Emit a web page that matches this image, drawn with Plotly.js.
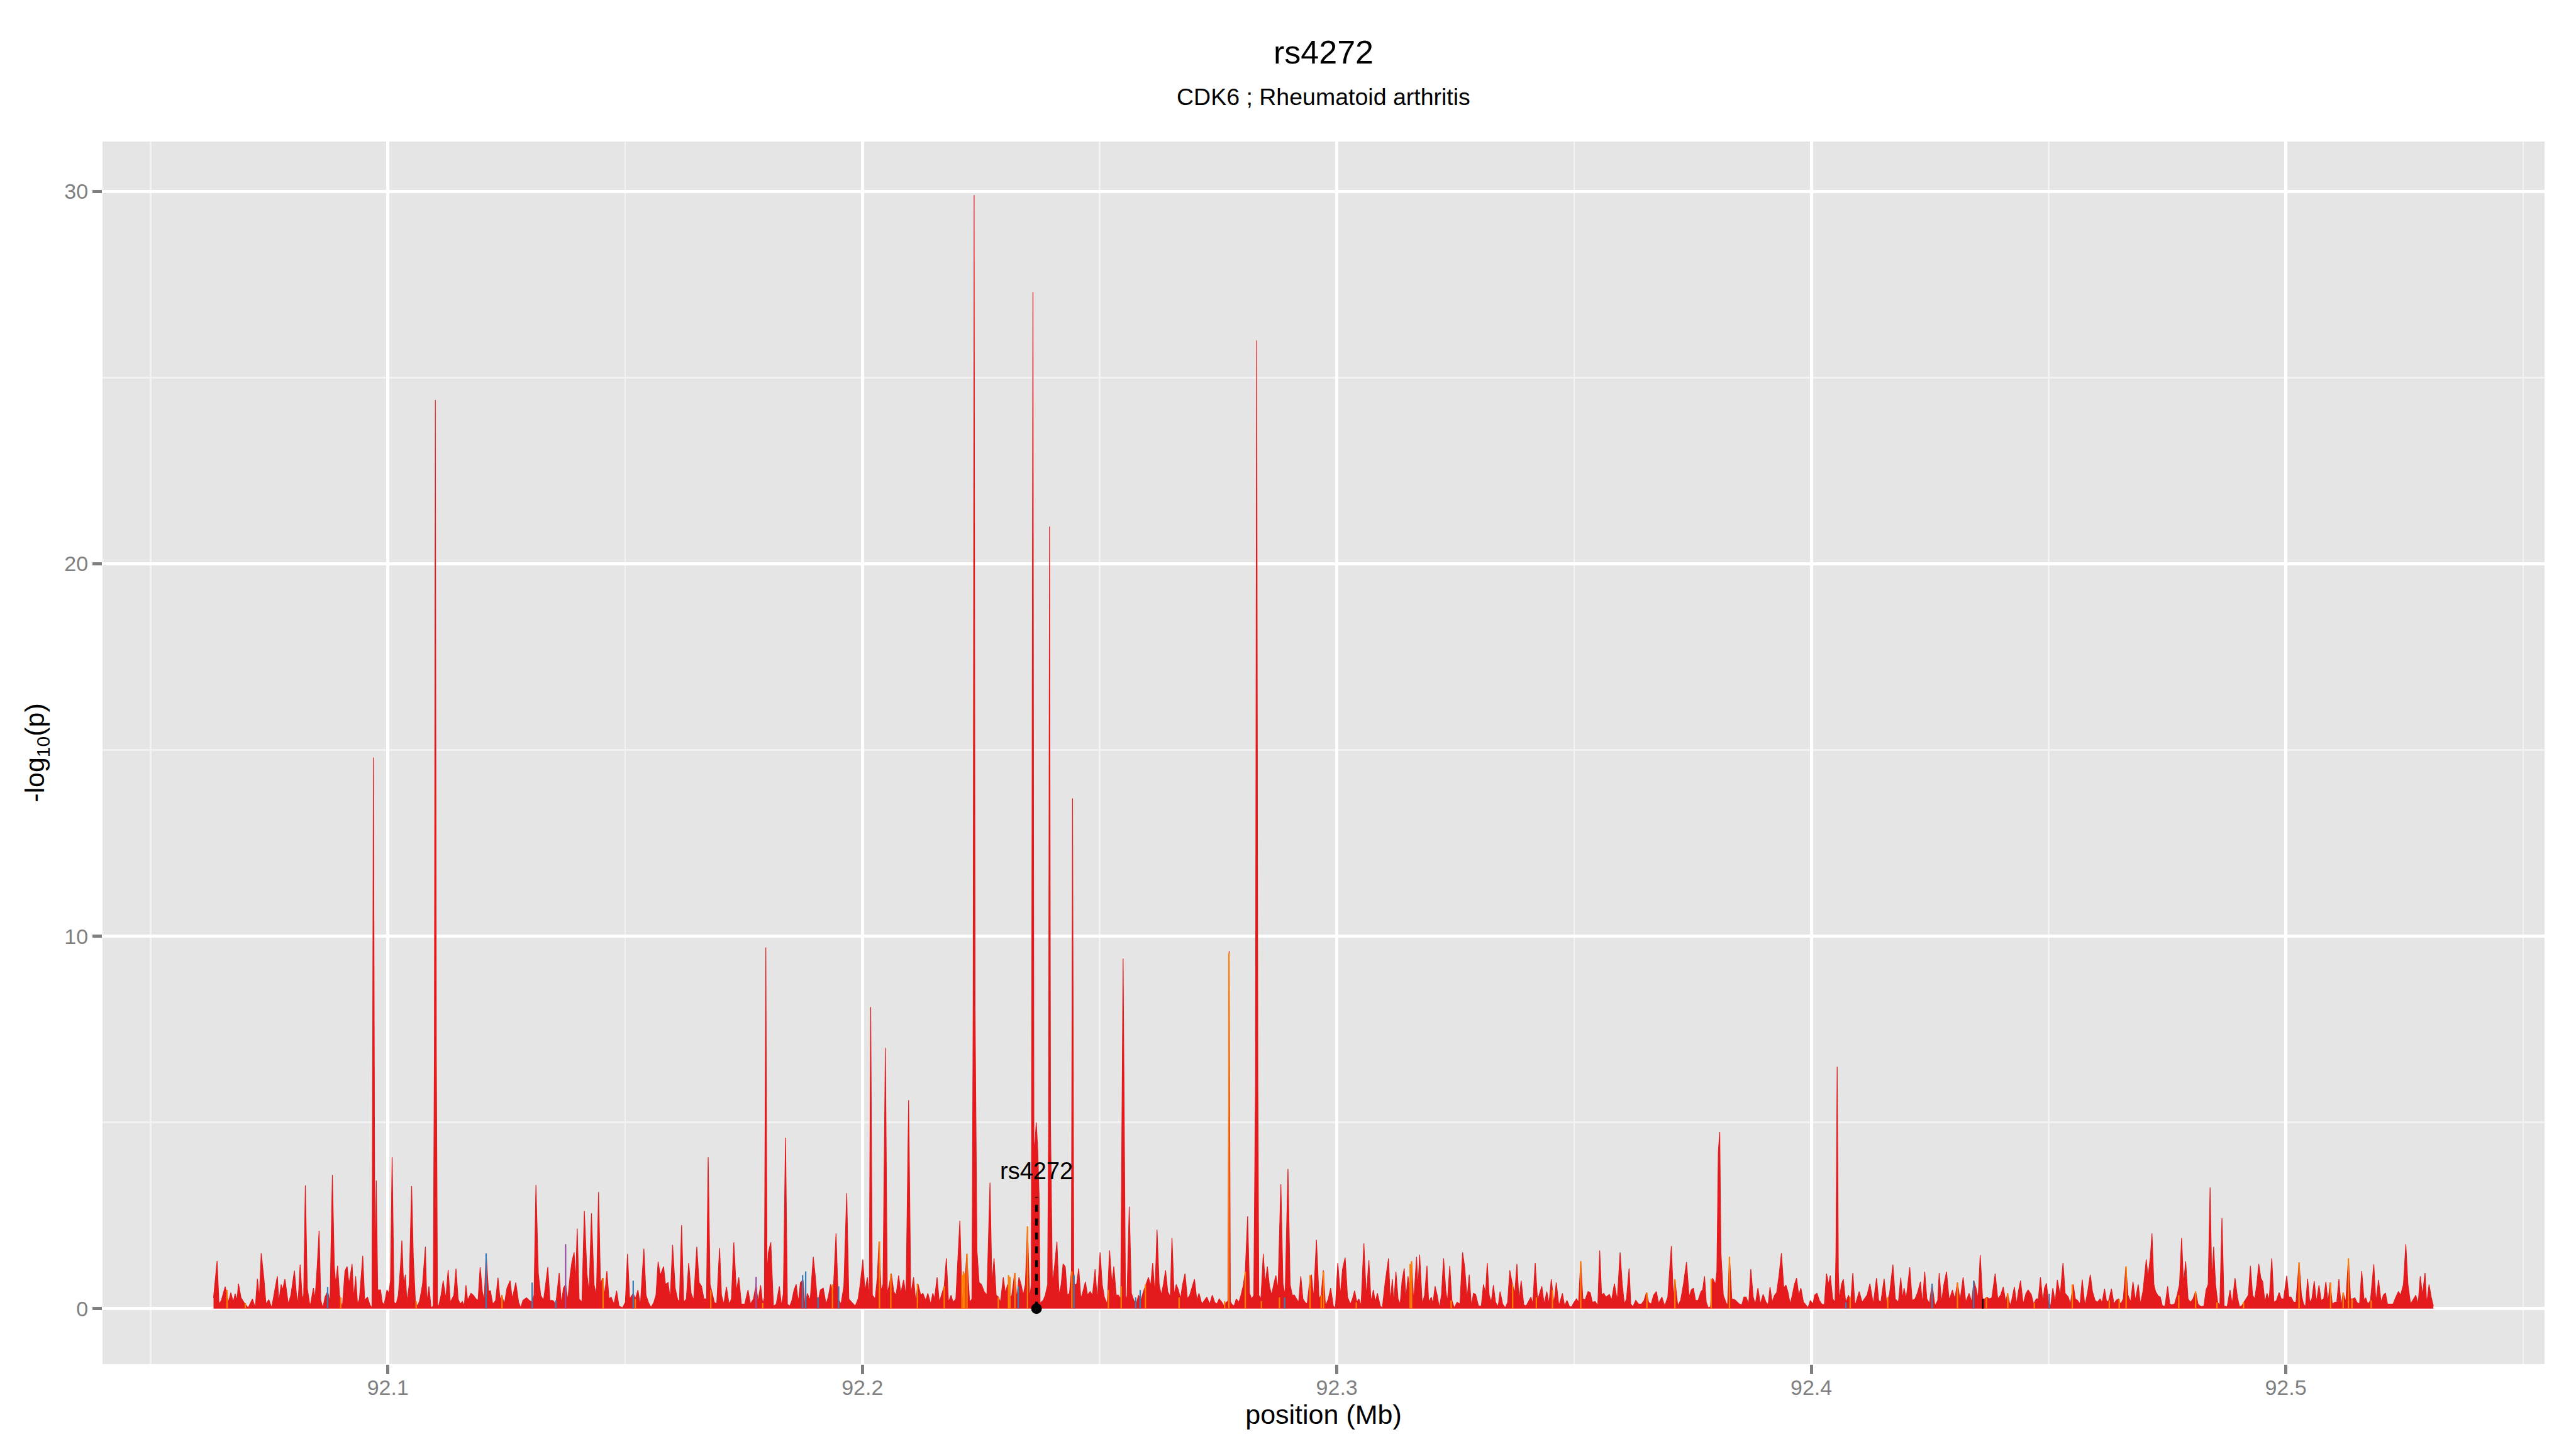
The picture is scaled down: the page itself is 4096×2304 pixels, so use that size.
<!DOCTYPE html>
<html>
<head>
<meta charset="utf-8">
<script src="https://cdn.plot.ly/plotly-3.0.1.min.js"></script>
<style>html,body{margin:0;padding:0;background:#fff;}#chart{width:4096px;height:2304px;}</style>
</head>
<body>
<div id="chart"></div>
<script>
// ---------- DATA (position in Mb, value = -log10(p)) ----------
const posA = [
92.06325,92.064,92.0644,92.0649,92.0657,92.0664,92.0669,92.0674,92.0678,92.0682,
92.0685,92.06905,92.0698,92.07055,92.07145,92.07205,92.0725,92.0729,92.0733,92.0739,
92.0743,92.0749,92.0755,92.076,92.0767,92.077,92.0775,92.0778,92.0783,92.07865,
92.079,92.07955,92.0803,92.0807,92.08105,92.0815,92.08195,92.08225,92.0826,92.083,
92.0836,92.0843,92.08465,92.0851,92.0855,92.08585,92.0863,92.08675,92.0873,92.0878,
92.0883,92.0887,92.089,92.0894,92.0898,92.0904,92.09095,92.0914,92.0918,92.09245,
92.0928,92.0932,92.0936,92.094,92.0947,92.0951,92.0957,92.0962,92.09665,92.09695,
92.09725,92.09755,92.09785,92.09845,92.0988,92.0992,92.0998,92.1002,92.10055,92.1009,
92.1013,92.10175,92.1022,92.10265,92.10295,92.1033,92.1037,92.104,92.1045,92.105,
92.10535,92.1058,92.10625,92.1067,92.1073,92.1079,92.1082,92.10865,92.1091,92.10955,
92.1098,92.11,92.1102,92.11045,92.1107,92.1112,92.11165,92.1122,92.1127,92.11315,
92.1139,92.11435,92.1148,92.11525,92.1157,92.1161,92.11645,92.1168,92.1175,92.118,
92.11855,92.119,92.11945,92.1199,92.1203,92.1207,92.1212,92.1216,92.1221,92.1227,
92.1232,92.12365,92.124,92.12455,92.1251,92.12575,92.1262,92.12695,92.12755,92.128,
92.12845,92.1292,92.1298,92.1304,92.1308,92.1312,92.1317,92.1322,92.1328,92.13325,
92.1337,92.13415,92.13475,92.1354,92.1361,92.13655,92.137,92.13745,92.1379,92.1384,
92.1388,92.13925,92.13955,92.1399,92.1403,92.1409,92.1414,92.14195,92.1424,92.1429,
92.14345,92.14395,92.1444,92.1448,92.14525,92.1457,92.14615,92.1466,92.14705,92.14765,
92.1482,92.1487,92.14945,92.15005,92.1505,92.15095,92.1517,92.15215,92.1527,92.1532,
92.15395,92.1544,92.1549,92.15545,92.15605,92.1565,92.15695,92.1574,92.1581,92.1585,
92.15905,92.1595,92.16,92.16055,92.1611,92.16145,92.1619,92.16235,92.1629,92.1634,
92.1639,92.16445,92.1651,92.1656,92.1661,92.1666,92.16715,92.1675,92.1679,92.16835,
92.1688,92.1693,92.1699,92.1703,92.1708,92.17135,92.1719,92.1724,92.1729,92.17345,
92.17395,92.1745,92.1752,92.1759,92.1764,92.17705,92.1776,92.178,92.17855,92.179,
92.17935,92.17965,92.1799,92.1802,92.1807,92.18125];
const valA = [
0.29,1.28,0.12,0.22,0.59,0.17,0.43,0.17,0.40,0.22,
0.67,0.29,0.14,0.02,0.26,0.02,0.80,0.26,1.49,0.75,
0.12,0.24,0.02,0.36,0.87,0.17,0.65,0.50,0.79,0.46,
0.12,0.36,1.02,0.41,0.12,1.18,0.26,0.36,3.31,0.55,
0.05,0.55,0.26,1.13,2.09,0.22,0.02,0.31,0.46,0.17,
3.59,1.13,0.65,1.15,0.36,0.02,1.01,1.13,0.65,1.20,
0.26,0.87,0.12,0.26,1.42,0.22,0.31,0.10,0.02,14.8,
1.0,3.44,0.5,0.50,0.17,0.10,0.50,0.41,0.75,4.06,
0.17,0.12,0.36,1.13,1.83,0.65,0.91,0.17,0.65,3.29,
1.39,0.17,0.07,0.22,0.65,1.66,0.17,0.60,0.02,0.07,
7.0,24.4,7.0,0.1,0.07,0.36,0.75,0.26,1.04,0.17,
0.36,1.07,0.26,0.12,0.19,0.07,0.63,0.22,0.41,0.36,
0.26,0.22,1.11,0.46,0.22,1.48,0.46,0.48,0.12,0.22,
0.83,0.22,0.36,0.12,0.55,0.75,0.26,0.70,0.17,0.02,
0.22,0.29,0.22,0.17,0.36,3.32,0.94,0.36,0.22,0.65,
1.12,0.22,0.22,0.12,0.96,0.12,0.55,0.65,0.22,0.89,
1.27,1.51,0.65,2.15,0.26,0.17,2.62,0.94,0.41,2.56,
0.65,0.36,3.13,0.65,0.82,0.36,1.01,0.26,0.31,0.12,
0.48,0.07,0.02,0.17,1.47,0.26,0.41,0.26,0.50,0.07,
1.61,0.36,0.17,0.03,0.17,0.36,1.26,0.89,1.13,0.65,
0.70,0.26,1.71,0.55,0.22,0.22,2.24,0.17,0.26,1.23,
0.41,0.22,1.66,0.70,0.60,0.26,0.26,4.06,0.65,0.41,
0.17,0.12,1.63,0.36,0.12,0.58,0.12,0.26,1.78,0.46,
0.84,0.12,0.12,0.50,0.12,0.26,0.65,0.17,0.63,0.12,
0.3,9.7,0.9,1.51,1.78,0.07];

const posB = [
92.18185,92.1825,92.18295,92.18335,92.1838,92.1842,92.1847,92.18515,92.1856,92.18605,
92.1865,92.18695,92.1875,92.1879,92.1884,92.189,92.18965,92.1901,92.19055,92.19115,
92.19175,92.19235,92.1928,92.1933,92.19385,92.19445,92.1949,92.1955,92.1961,92.1967,
92.19715,92.19775,92.1985,92.1991,92.19955,92.2001,92.20055,92.20105,92.20145,92.20175,
92.2021,92.2027,92.20315,92.2035,92.20395,92.20435,92.20485,92.20525,92.2057,92.2061,
92.2066,92.2071,92.20765,92.2081,92.2087,92.2092,92.20975,92.2102,92.2108,92.21125,
92.2117,92.2123,92.21275,92.21335,92.2138,92.2144,92.21485,92.2152,92.21575,92.2162,
92.2167,92.21725,92.2177,92.21815,92.2187,92.2191,92.2197,92.22055,92.221,92.22145,
92.222,92.2226,92.2231,92.22335,92.22355,92.22375,92.22415,92.2246,92.2251,92.22565,
92.22625,92.2269,92.2273,92.22775,92.2282,92.22865,92.2291,92.2297,92.23015,92.2306,
92.23105,92.2315,92.2321,92.23255,92.233,92.23345,92.2339,92.23435,92.2348,92.23525,
92.2356,92.23595,92.23615,92.2364,92.23665,92.23695,92.23725,92.23745,92.2381,92.23855,
92.23905,92.23925,92.23945,92.23965,92.24005,92.2405,92.241,92.24145,92.2419,92.2423,
92.24275,92.2432,92.24365,92.24405,92.2443,92.24455,92.2447,92.24515,92.2456,92.24605,
92.2465,92.247,92.24745,92.248,92.2485,92.24905,92.2495,92.2501,92.25055,92.251,
92.2516,92.2521,92.2526,92.253,92.2535,92.25395,92.25445,92.25495,92.25545,92.25575,
92.25625,92.2567,92.2572,92.25775,92.2582,92.2587,92.25925,92.25975,92.2603,92.26075,
92.2612,92.26165,92.2621,92.26255,92.263,92.26345,92.2639,92.26435,92.2649,92.26525,
92.2657,92.26615,92.2666,92.26705,92.2675,92.268,92.2685,92.269,92.26945,92.27,
92.2705,92.27095,92.27155,92.27215,92.2726,92.2732,92.27375,92.27425,92.2747,92.2752,
92.27575,92.2762,92.2767,92.27705,92.2773,92.27755,92.27785,92.27835,92.2788,92.27935,
92.2798,92.28025,92.2807,92.2812,92.2816,92.28205,92.2825,92.28285,92.2831,92.28335,
92.28355,92.284,92.2845,92.2849,92.28535,92.2858,92.28625,92.2867,92.28715,92.2876,
92.2882,92.28865,92.2891,92.2897,92.29015,92.2906,92.29105,92.2915,92.29195,92.2924,
92.29285,92.2933,92.29375,92.2942,92.29465,92.2951,92.2957];
const valB = [
0.12,0.60,0.07,0.41,4.59,0.12,0.07,0.22,0.50,0.65,
0.17,0.70,0.77,0.02,0.41,0.22,1.39,0.84,0.12,0.50,
0.55,0.12,0.31,0.65,0.41,2.02,0.26,0.12,0.60,3.10,
0.26,0.17,0.07,0.26,0.65,1.32,0.46,0.84,0.3,8.1,
0.36,0.26,0.84,1.80,0.46,0.65,7.0,0.41,0.65,0.94,
0.46,0.36,0.89,0.41,0.77,0.31,5.6,0.36,0.84,0.17,
0.67,0.36,0.41,0.22,0.41,0.12,0.41,0.26,0.84,0.17,
0.36,0.60,1.35,0.17,0.36,0.17,0.26,2.36,0.31,0.36,
1.47,0.17,0.26,8.0,29.9,8.0,1.56,0.70,0.65,0.46,
0.36,3.38,0.65,1.35,0.36,0.31,0.17,0.84,0.41,0.65,
0.26,0.36,0.96,0.26,0.84,0.65,0.36,0.65,2.21,0.26,
0.65,27.3,4.2,4.5,5.0,4.3,3.0,0.15,0.22,0.36,
0.65,5.0,21.0,5.0,0.65,1.13,1.80,0.36,0.65,1.20,
1.13,0.36,0.41,1.0,13.7,1.0,0.65,0.65,1.08,0.26,
0.46,0.72,0.36,0.46,0.36,1.06,0.22,1.51,0.65,0.31,
0.12,1.56,0.65,1.13,0.36,0.36,0.26,9.4,0.36,0.22,
2.74,0.41,0.22,0.12,0.36,0.22,0.46,0.65,0.84,0.60,
1.23,0.36,2.12,0.65,0.36,0.65,1.03,0.46,0.31,1.90,
0.36,0.65,0.50,0.26,0.65,0.94,0.26,0.36,0.55,0.79,
0.22,0.41,0.12,0.22,0.31,0.12,0.36,0.17,0.12,0.26,
0.17,0.07,0.17,0.2,9.6,0.2,0.12,0.07,0.26,0.17,
0.36,0.60,0.99,2.48,0.41,0.26,0.36,6.0,26.0,6.0,
0.36,0.26,1.47,0.65,1.13,0.60,0.36,0.65,0.89,0.50,
3.34,0.65,0.36,3.75,0.65,0.36,0.36,0.26,0.17,0.87,
0.26,0.17,0.12,0.65,0.91,0.26,1.85];

const posC = [
92.29625,92.2967,92.29715,92.2976,92.2982,92.2987,92.29925,92.2997,92.3002,92.30075,
92.3012,92.30175,92.30225,92.30285,92.3033,92.30375,92.3042,92.30465,92.3051,92.3057,
92.3062,92.30675,92.3072,92.3077,92.3081,92.30855,92.30915,92.3096,92.3102,92.3109,
92.31125,92.3117,92.312,92.31245,92.3129,92.31335,92.31375,92.3142,92.31455,92.315,
92.31545,92.31575,92.3162,92.3168,92.3171,92.31745,92.318,92.3185,92.319,92.31935,
92.3199,92.32025,92.3207,92.32115,92.3216,92.32205,92.3225,92.32295,92.3233,92.3238,
92.32425,92.32475,92.32535,92.32595,92.3265,92.32695,92.32745,92.3279,92.32835,92.3288,
92.32925,92.32985,92.33045,92.3309,92.33135,92.3317,92.3321,92.33255,92.333,92.33345,
92.334,92.3344,92.33495,92.3355,92.336,92.33645,92.337,92.3375,92.33795,92.3384,
92.33885,92.3394,92.3399,92.34035,92.3409,92.3413,92.3418,92.3423,92.34275,92.3432,
92.3437,92.34425,92.3447,92.3452,92.34575,92.34625,92.3468,92.34755,92.348,92.3485,
92.34905,92.3495,92.35,92.3505,92.35095,92.3514,92.35185,92.35235,92.35295,92.3534,
92.35385,92.35445,92.355,92.3554,92.3558,92.35625,92.3567,92.35745,92.3579,92.3585,
92.3591,92.3597,92.36015,92.3606,92.36105,92.3616,92.36195,92.3624,92.363,92.3636,
92.3642,92.36475,92.36525,92.3657,92.36625,92.36675,92.36735,92.3678,92.3685,92.3691,
92.36975,92.3705,92.37095,92.37125,92.37185,92.37245,92.37305,92.3737,92.37425,92.3747,
92.37515,92.3756,92.37615,92.37675,92.3771,92.3775,92.37785,92.3783,92.37875,92.3792,
92.3798,92.3801,92.3804,92.3807,92.38095,92.38145,92.382,92.38235,92.38275,92.38325,
92.38385,92.3844,92.38485,92.38535,92.3858,92.38625,92.3868,92.38725,92.38775,92.3882,
92.38875,92.38925,92.38985,92.39045,92.3909,92.3913,92.39175,92.39225,92.3927,92.3932,
92.3937,92.3942,92.39465,92.3951,92.39555,92.396,92.39645,92.3969,92.39735,92.3978,
92.39835,92.39885,92.3993,92.3998,92.40035,92.4007,92.4012,92.4017,92.4022,92.40275,
92.4032,92.40365,92.404,92.4045,92.405,92.4052,92.40545,92.4057,92.4059,92.40635,
92.40675,92.40725,92.40785,92.4083,92.40875,92.4092,92.40965,92.4101,92.4107,92.41125,
92.41175,92.41235];
const valC = [
0.26,0.36,1.03,0.07,0.26,0.55,0.07,0.02,1.23,0.36,
1.06,1.37,0.31,0.12,0.26,0.48,0.17,0.26,0.07,1.75,
0.31,1.30,0.17,0.50,0.17,0.41,0.07,0.02,0.72,1.35,
0.17,0.79,0.12,0.99,0.26,0.12,0.75,1.08,0.26,0.87,
0.41,1.27,0.17,1.39,0.55,1.45,0.12,0.36,1.15,0.17,
0.31,0.12,0.60,0.36,0.02,0.36,1.35,0.50,0.17,1.15,
0.22,0.02,0.17,0.12,1.51,1.11,0.26,0.91,0.07,0.41,
0.38,0.07,0.07,0.65,0.41,1.23,0.36,0.17,0.63,0.17,
0.05,0.46,0.12,0.02,0.17,1.03,0.65,0.41,1.20,0.22,
0.75,0.10,0.07,0.17,0.31,0.12,1.23,0.22,0.41,0.60,
0.12,0.46,0.12,0.79,0.12,0.70,0.07,0.41,0.07,0.22,
0.05,0.05,0.17,0.26,0.17,1.27,0.26,0.24,0.46,0.43,
0.17,0.19,0.07,1.56,0.36,0.41,0.31,0.38,0.22,0.67,
0.22,1.51,0.65,0.12,0.26,1.08,0.12,0.05,0.22,0.12,
0.12,0.22,0.43,0.17,0.12,0.36,0.46,0.14,0.31,0.07,
0.31,1.68,0.22,0.79,0.07,0.22,0.65,1.25,0.31,0.50,
0.55,0.22,0.22,0.46,0.50,0.87,0.17,0.02,0.05,0.82,
0.65,1.0,4.2,4.74,1.5,0.36,0.17,0.07,1.39,0.26,
0.24,0.17,0.12,0.10,0.31,0.31,0.12,1.06,0.31,0.12,
0.55,0.12,0.38,0.17,0.10,0.58,0.17,0.36,0.43,0.89,
1.49,0.55,0.63,0.43,0.12,0.36,0.65,0.82,0.36,0.55,
0.17,0.10,0.02,0.22,0.12,0.36,0.41,0.22,0.12,0.10,
0.94,0.65,0.89,0.26,0.17,1.5,6.5,1.0,0.22,0.65,
0.79,0.17,0.36,0.17,0.96,0.07,0.26,0.46,0.17,0.26,
0.36,0.67];

const posD = [
92.41305,92.41375,92.4142,92.41465,92.41535,92.4159,92.4165,92.4172,92.4177,92.41835,
92.41885,92.41925,92.41955,92.42,92.42075,92.42125,92.42185,92.4224,92.423,92.4234,
92.4239,92.42435,92.4249,92.42545,92.42605,92.42665,92.42695,92.42745,92.42795,92.4285,
92.42905,92.42975,92.43025,92.4308,92.43135,92.432,92.43255,92.43325,92.4338,92.43425,
92.4347,92.43515,92.4356,92.4361,92.43655,92.437,92.43755,92.43805,92.43875,92.4393,
92.4399,92.44045,92.441,92.44135,92.4419,92.4423,92.4428,92.44325,92.44365,92.4441,
92.44465,92.44525,92.4457,92.44635,92.44685,92.4474,92.44785,92.4483,92.4488,92.44915,
92.44955,92.45,92.45045,92.4509,92.4514,92.45185,92.45245,92.45305,92.4535,92.45415,
92.4546,92.4552,92.45565,92.4561,92.45665,92.4571,92.45765,92.4582,92.4588,92.45925,
92.4598,92.4603,92.46085,92.4613,92.4618,92.46225,92.4627,92.46325,92.4638,92.46425,
92.4647,92.4652,92.46575,92.4663,92.46675,92.4673,92.4678,92.4683,92.4689,92.46935,
92.4699,92.4706,92.47095,92.47145,92.4718,92.4722,92.47255,92.4731,92.47355,92.474,
92.47455,92.4751,92.47555,92.476,92.47655,92.4771,92.4776,92.47805,92.47845,92.4789,
92.4794,92.4799,92.48045,92.481,92.4815,92.4821,92.48275,92.4832,92.48365,92.48405,
92.4844,92.4848,92.4852,92.48565,92.4861,92.48655,92.487,92.48765,92.48825,92.4887,
92.4893,92.4898,92.49025,92.4907,92.49115,92.4916,92.4921,92.49255,92.493,92.49345,
92.4939,92.4943,92.49475,92.49515,92.4956,92.49605,92.4965,92.49705,92.4975,92.49805,
92.4986,92.49905,92.49955,92.5002,92.50065,92.5011,92.50165,92.50215,92.5028,92.5033,
92.50375,92.50415,92.5046,92.50505,92.5055,92.506,92.50645,92.507,92.50745,92.508,
92.50845,92.5089,92.50935,92.5098,92.51035,92.51075,92.5112,92.51165,92.5121,92.51265,
92.5132,92.51365,92.5141,92.51455,92.515,92.51555,92.516,92.5165,92.51685,92.5173,
92.51785,92.51855,92.519,92.51955,92.5201,92.52055,92.521,92.52145,92.52205,92.5226,
92.5232,92.52375,92.5242,92.5248,92.5253,92.52575,92.5263,92.5268,92.5274,92.5279,
92.52835,92.5288,92.52935,92.5297,92.5302,92.53065,92.5311];
const valD = [
0.12,0.82,0.22,0.17,0.80,0.12,0.41,1.18,0.26,0.17,
0.83,0.26,0.55,0.26,1.11,0.22,0.26,0.43,0.72,0.12,
0.99,0.26,0.14,0.67,0.07,0.22,0.96,0.17,0.65,0.99,
0.22,0.50,0.26,0.70,0.22,0.84,0.17,0.41,0.17,0.75,
0.55,0.26,1.44,0.26,0.26,0.31,0.26,0.29,0.94,0.26,
0.36,0.58,0.17,0.41,0.07,0.26,0.58,0.12,0.46,0.75,
0.12,0.41,0.50,0.38,0.12,0.26,0.26,0.84,0.17,0.55,
0.68,0.17,0.07,0.55,0.17,0.77,0.36,1.23,0.41,0.31,
0.12,0.65,0.26,0.22,0.12,0.78,0.07,0.41,0.91,0.46,
0.22,0.17,0.26,0.17,0.53,0.17,0.22,0.53,0.12,0.22,
0.26,0.12,0.26,1.13,0.36,0.17,0.72,0.22,0.65,0.12,
0.46,1.32,0.84,1.37,2.02,0.65,0.46,0.34,0.31,0.07,
0.07,0.60,0.12,0.10,0.12,0.36,0.65,1.90,0.65,1.27,
0.26,0.17,0.26,0.46,0.12,0.05,0.07,0.50,0.65,3.25,
0.75,1.66,0.65,0.17,0.07,2.43,0.07,0.05,0.50,0.12,
0.82,0.31,0.05,0.07,0.17,0.26,0.36,1.15,0.36,0.26,
0.65,1.20,0.82,0.72,0.17,0.41,0.22,1.35,0.17,0.22,
0.43,0.26,0.26,0.88,0.31,0.31,0.17,0.17,1.24,0.36,
0.12,0.05,0.80,0.17,0.26,0.74,0.17,0.63,0.22,0.26,
0.72,0.17,0.70,0.12,0.17,0.17,0.79,0.07,0.43,0.17,
1.35,0.26,0.26,0.29,0.17,0.12,1.01,0.22,0.29,0.12,
0.22,1.19,0.17,0.77,0.17,0.36,0.42,0.12,0.12,0.12,
0.31,0.46,0.36,0.65,1.73,0.65,0.12,0.22,0.36,0.12,
0.87,0.36,0.96,0.12,0.65,0.31,0.07];

// SNPs in other LD groups (orange, blue, purple, black)
const orangePos = [92.0661,92.06995,92.09005,92.10595,92.12405,92.14535,92.15215,92.16805,92.179,92.1937,
92.2036,92.206,92.2116,92.21725,92.221,92.2213,92.2216,92.22205,92.22865,92.2308,
92.2311,92.23215,92.2348,92.24415,92.25185,92.25455,92.25965,92.26675,92.27635,92.27725,
92.2807,92.2841,92.2879,92.29435,92.2967,92.2972,92.3041,92.31545,92.31575,92.3241,
92.33705,92.34205,92.34545,92.3514,92.36535,92.37125,92.3789,92.38275,92.4082,92.4161,
92.4308,92.4369,92.4414,92.447,92.455,92.4628,92.4649,92.46635,92.47745,92.481,
92.4855,92.4911,92.5028,92.50945,92.5121,92.5132,92.51395,92.518];
const orangeVal = [0.5,0.15,0.3,0.2,0.36,0.82,0.26,0.5,0.15,0.65,
1.8,0.94,0.67,0.6,0.9,1.0,0.95,1.47,0.3,0.9,
0.85,0.96,2.21,1.0,0.5,0.6,0.65,0.3,0.2,9.55,
0.99,0.2,0.3,0.9,0.36,1.0,0.17,1.2,1.27,0.22,
0.65,0.3,0.5,1.27,0.43,0.79,0.8,1.39,0.3,0.3,
0.7,0.3,0.41,0.15,0.65,0.22,0.26,1.13,0.36,0.46,
0.17,0.17,1.24,0.7,0.43,1.35,0.26,0.22];
const bluePos = [92.0873,92.1207,92.1304,92.1354,92.1517,92.1874,92.18805,92.19065,92.195,92.23285,
92.2446,92.2576,92.25855,92.289,92.4073,92.42545,92.4342,92.45015];
const blueVal = [0.58,1.48,0.7,0.22,0.75,0.9,1.0,0.3,0.6,0.6,
0.9,0.3,0.5,0.3,0.17,0.67,0.75,0.4];
const purplePos = [92.13745,92.1776];
const purpleVal = [1.73,0.85];
const blackPos = [92.43615];
const blackVal = [0.26];

// index SNP
const indexName = ['rs4272'];
const indexPos = [92.2367];
const indexLineTop = [3.0];
const indexLabelY = [3.7];

// axes
const xTickVals = [92.1, 92.2, 92.3, 92.4, 92.5];
const xTickText = ['92.1', '92.2', '92.3', '92.4', '92.5'];
const xMinorVals = [92.05, 92.15, 92.25, 92.35, 92.45, 92.55];
const yTickVals = [0, 10, 20, 30];
const yTickText = ['0', '10', '20', '30'];
const yMinorVals = [5, 15, 25];

const titleText = 'rs4272';
const subtitleText = 'CDK6 ; Rheumatoid arthritis';

// ---------- BUILD ----------
const xs = [].concat(posA, posB, posC, posD);
const ys = [].concat(valA, valB, valC, valD);
const n = Math.min(xs.length, ys.length);

const X_RANGE = [92.03985, 92.55454];
const Y_RANGE = [-1.49, 31.34];
const FONT = 'Liberation Sans, Arial, Helvetica, sans-serif';
const BAR_W = 0.0003;

const traces = [
  {type:'scatter', mode:'lines', x:xs.slice(0,n), y:ys.slice(0,n), fill:'tozeroy',
   fillcolor:'#E41A1C', line:{color:'#E41A1C', width:1.2}, hoverinfo:'skip', xaxis:'x', yaxis:'y'},
  {type:'bar', x:orangePos, y:orangeVal, width:BAR_W, marker:{color:'#FF7F00', line:{width:0}}, xaxis:'x2', yaxis:'y2'},
  {type:'bar', x:bluePos, y:blueVal, width:BAR_W, marker:{color:'#377EB8', line:{width:0}}, xaxis:'x2', yaxis:'y2'},
  {type:'bar', x:purplePos, y:purpleVal, width:BAR_W, marker:{color:'#984EA3', line:{width:0}}, xaxis:'x2', yaxis:'y2'},
  {type:'bar', x:blackPos, y:blackVal, width:BAR_W, marker:{color:'#000000', line:{width:0}}, xaxis:'x2', yaxis:'y2'},
  {type:'scatter', mode:'lines', x:[indexPos[0], indexPos[0]], y:[0, indexLineTop[0]],
   line:{color:'#000000', width:4.5, dash:'11px,11px'}, xaxis:'x2', yaxis:'y2'},
  {type:'scatter', mode:'markers', x:indexPos, y:[0], marker:{color:'#000000', size:17},
   cliponaxis:false, xaxis:'x2', yaxis:'y2'}
];

const tickFont = {family:FONT, size:34, color:'#7F7F7F'};
const layout = {
  width:4096, height:2304,
  margin:{l:163, r:50, t:225, b:135, pad:0},
  paper_bgcolor:'#FFFFFF', plot_bgcolor:'#E5E5E5',
  font:{family:FONT, color:'#000000'},
  showlegend:false, barmode:'overlay', hovermode:false,
  title:{text:titleText, font:{family:FONT, size:52, color:'#000000'},
         x:0.5, xref:'paper', xanchor:'center', y:1 - 83/2304, yref:'container', yanchor:'middle'},
  annotations:[
    {text:subtitleText, xref:'paper', yref:'paper', x:0.5, y:(2169-154)/1944, xanchor:'center', yanchor:'middle',
     showarrow:false, font:{family:FONT, size:37.5, color:'#000000'}},
    {text:indexName[0], xref:'x2', yref:'y2', x:indexPos[0], y:indexLabelY[0], xanchor:'center', yanchor:'middle',
     showarrow:false, font:{family:FONT, size:38, color:'#000000'}}
  ],
  xaxis:{range:X_RANGE, tickmode:'array', tickvals:xTickVals, ticktext:xTickText,
    ticks:'outside', ticklen:15, tickwidth:5, tickcolor:'#7F7F7F', tickfont:tickFont,
    ticklabelstandoff:-8,
    showgrid:true, gridcolor:'#FFFFFF', gridwidth:5, zeroline:false, showline:false,
    minor:{tickmode:'array', tickvals:xMinorVals, showgrid:true, gridcolor:'#F2F2F2', gridwidth:2.5, ticks:''},
    title:{text:'position (Mb)', font:{family:FONT, size:43, color:'#000000'}, standoff:4},
    fixedrange:true},
  yaxis:{range:Y_RANGE, tickmode:'array', tickvals:yTickVals, ticktext:yTickText,
    ticks:'outside', ticklen:15, tickwidth:5, tickcolor:'#7F7F7F', tickfont:tickFont,
    showgrid:true, gridcolor:'#FFFFFF', gridwidth:5, zeroline:false, showline:false,
    minor:{tickmode:'array', tickvals:yMinorVals, showgrid:true, gridcolor:'#F2F2F2', gridwidth:2.5, ticks:''},
    title:{text:'-log<sub>10</sub>(p)', font:{family:FONT, size:43, color:'#000000'}, standoff:18},
    fixedrange:true},
  xaxis2:{range:X_RANGE, overlaying:'x', visible:false, showgrid:false, zeroline:false, fixedrange:true},
  yaxis2:{range:Y_RANGE, overlaying:'y', visible:false, showgrid:false, zeroline:false, fixedrange:true}
};

Plotly.newPlot('chart', traces, layout, {displayModeBar:false, staticPlot:true});
</script>
</body>
</html>
